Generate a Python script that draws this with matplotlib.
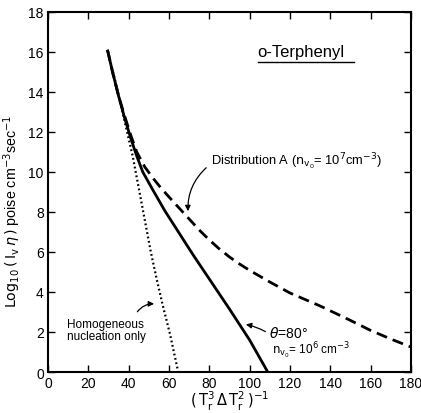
import matplotlib
matplotlib.use("Agg")
import matplotlib.pyplot as plt

# Data
theta_x = [29.5, 32, 35, 38, 41, 44, 47, 52, 58, 65, 72, 80, 90, 100, 109]
theta_y = [16.1, 15.0, 13.8, 12.7, 11.7, 10.8, 10.0, 9.1, 8.05, 6.95, 5.85, 4.65, 3.15, 1.6, 0.0]

distA_x = [29.5, 32, 35, 38, 41, 44, 48, 52, 56, 60, 65, 70, 75, 80, 85, 90, 95, 100, 110, 120, 135, 150, 160, 170, 180]
distA_y = [16.1, 15.0, 13.8, 12.8, 11.85, 11.0, 10.25, 9.7, 9.2, 8.75, 8.2, 7.65, 7.1, 6.6, 6.15, 5.75, 5.4, 5.08, 4.5, 3.95, 3.3, 2.58, 2.08, 1.65, 1.25]

homo_x = [29.5, 33, 36, 39, 42, 45, 48, 51, 54, 57, 60.5, 64.6]
homo_y = [16.1, 14.7, 13.4, 12.1, 10.8, 9.2, 7.6, 6.0, 4.6, 3.3, 1.9, 0.0]

x_ticks = [0, 20, 40, 60, 80, 100, 120, 140, 160, 180]
y_ticks = [0, 2, 4, 6, 8, 10, 12, 14, 16, 18]

plt.rcParams['font.family'] = ['Liberation Sans', 'DejaVu Sans']

fig = plt.figure(figsize=(4.21, 4.14), dpi=100)
ax = fig.add_axes([0.114, 0.099, 0.862, 0.870])

ax.plot(theta_x, theta_y, color='black', lw=2.0, solid_capstyle='butt')
ax.plot(distA_x, distA_y, color='black', lw=2.0, dashes=(4, 2.2))
ax.plot(homo_x, homo_y, color='black', lw=1.6, linestyle=(0, (0.8, 1.2)))

ax.set_xlim(0, 180)
ax.set_ylim(0, 18)
ax.set_xticks(x_ticks)
ax.set_yticks(y_ticks)
ax.tick_params(direction='in', length=5, width=1.0, top=True, right=True,
               labelsize=10, pad=3)
for s in ax.spines.values():
    s.set_linewidth(1.5)

ax.set_xlabel(r'$(\,\mathrm{T_r^3\,\Delta\,T_r^2}\,)^{-1}$', fontsize=10.5, labelpad=-1)
ax.set_ylabel(r'$\mathrm{Log_{10}}\,(\,\mathrm{I_v}\,\eta\,)$ poise cm$^{-3}$sec$^{-1}$',
              fontsize=10.3)
ax.yaxis.set_label_coords(-0.068, 0.45)

# Title-ish label
ax.text(104, 16.0, 'o-Terphenyl', fontsize=12, va='center', ha='left')
ax.plot([104, 152], [15.5, 15.5], color='black', lw=1.0)

# Distribution A
ax.text(81, 10.55, r'Distribution A ($\mathrm{n_{v_0}}$= 10$^7$cm$^{-3}$)', fontsize=9.3,
        va='center', ha='left')
ax.annotate('', xy=(69.5, 7.9), xytext=(79.5, 10.3),
            arrowprops=dict(arrowstyle='-|>', color='black', lw=0.9,
                            connectionstyle='arc3,rad=0.25', mutation_scale=8))

# Homogeneous nucleation only
ax.text(9.5, 2.1, 'Homogeneous\nnucleation only', fontsize=8.5, va='center', ha='left',
        linespacing=1.1)
ax.annotate('', xy=(54.0, 3.4), xytext=(43.5, 2.9),
            arrowprops=dict(arrowstyle='-|>', color='black', lw=0.9,
                            connectionstyle='arc3,rad=-0.3', mutation_scale=8))

# theta = 80
ax.text(109.5, 1.95, r'$\theta$=80°', fontsize=10, va='center', ha='left')
ax.text(111, 1.1, r'$\mathrm{n_{v_0}}$= 10$^6$ cm$^{-3}$', fontsize=8.5, va='center', ha='left')
ax.annotate('', xy=(96.8, 2.4), xytext=(109, 1.95),
            arrowprops=dict(arrowstyle='-|>', color='black', lw=0.9,
                            connectionstyle='arc3,rad=0.1', mutation_scale=8))

fig.savefig('out.png', dpi=100)
